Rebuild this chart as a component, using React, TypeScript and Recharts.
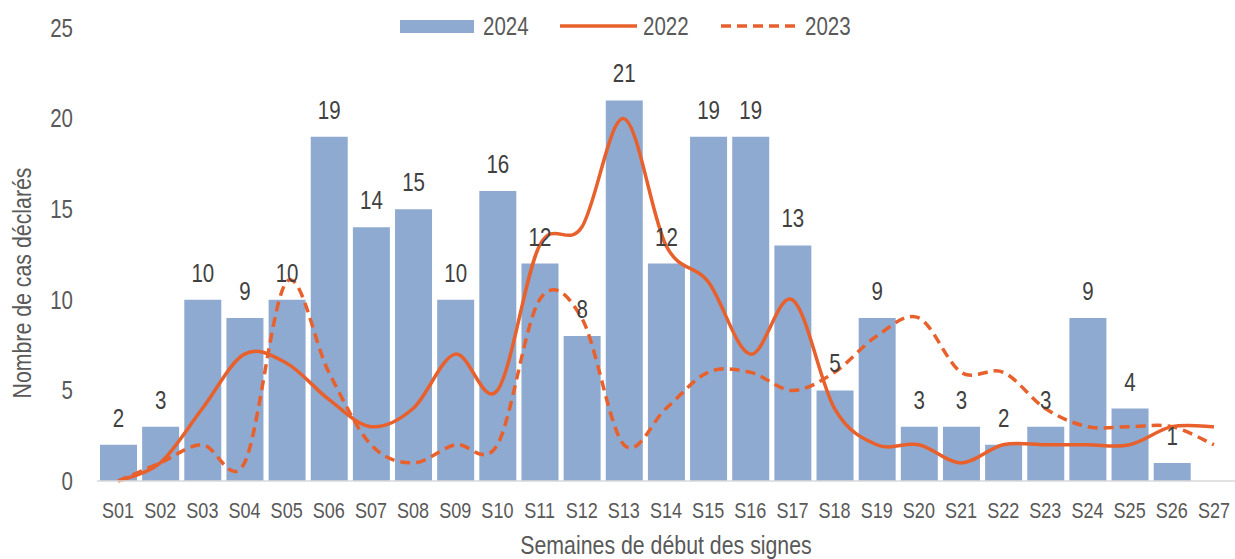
import React from "react";
import {
  ComposedChart, Bar, Line, XAxis, YAxis, LabelList,
} from "recharts";

// semaines + valeurs
const weeks = [
  "S01", "S02", "S03", "S04", "S05", "S06", "S07", "S08", "S09",
  "S10", "S11", "S12", "S13", "S14", "S15", "S16", "S17", "S18",
  "S19", "S20", "S21", "S22", "S23", "S24", "S25", "S26", "S27",
];
const cases2024 = [2, 3, 10, 9, 10, 19, 14, 15, 10, 16, 12, 8, 21, 12, 19, 19, 13, 5, 9, 3, 3, 2, 3, 9, 4, 1, null];
const cases2022 = [0, 1, 4, 7, 6.5, 4.5, 3, 4, 7, 5, 13, 14, 20, 13, 11, 7, 10, 4, 2, 2, 1, 2, 2, 2, 2, 3, 3];
const cases2023 = [0, 1, 2, 1, 11, 6, 2, 1, 2, 2, 10, 9, 2, 4, 6, 6, 5, 6, 8, 9, 6, 6, 4, 3, 3, 3, 2];
const yTicks = [0, 5, 10, 15, 20, 25];

const data = weeks.map((w, i) => ({
  week: w,
  y2024: cases2024[i],
  y2022: cases2022[i],
  y2023: cases2023[i],
}));

const BAR = "#8FAAD0";
const ORANGE = "#E8602C";
const GREY = "#595959";
const FONT = "'Liberation Sans', Arial, sans-serif";
const SQUEEZE = 0.82; // pas de police étroite dispo -> on compresse

// lissage type Excel (Catmull-Rom en Bézier)
function smoothCurve(context: any) {
  let pts: number[][] = [];
  return {
    areaStart() {},
    areaEnd() {},
    lineStart() { pts = []; },
    point(x: number, y: number) { pts.push([+x, +y]); },
    lineEnd() {
      const n = pts.length;
      if (!n) return;
      context.moveTo(pts[0][0], pts[0][1]);
      for (let i = 0; i < n - 1; i++) {
        const p0 = pts[i - 1] || pts[i];
        const p1 = pts[i];
        const p2 = pts[i + 1];
        const p3 = pts[i + 2] || p2;
        context.bezierCurveTo(
          p1[0] + (p2[0] - p0[0]) / 6, p1[1] + (p2[1] - p0[1]) / 6,
          p2[0] - (p3[0] - p1[0]) / 6, p2[1] - (p3[1] - p1[1]) / 6,
          p2[0], p2[1],
        );
      }
    },
  };
}

function NarrowText({ x, y, size, fill = GREY, anchor = "middle", dy = "0", rotate = 0, children }: any) {
  return (
    <text
      transform={`translate(${x},${y}) rotate(${rotate}) scale(${SQUEEZE},1)`}
      textAnchor={anchor} dy={dy} fontSize={size} fill={fill}
    >
      {children}
    </text>
  );
}

const XTick = ({ x, y, payload }: any) => (
  <NarrowText x={x} y={y} size={22} dy="0.71em">{payload.value}</NarrowText>
);

const YTick = ({ x, y, payload }: any) => (
  <NarrowText x={x} y={y} size={25} anchor="end" dy="0.355em">{payload.value}</NarrowText>
);

const BarValue = ({ x, y, width, value }: any) =>
  value == null ? null : (
    <NarrowText x={x + width / 2} y={y - 18} size={25} fill="#404040">{value}</NarrowText>
  );

function LegendBox() {
  const txt: React.CSSProperties = {
    position: "absolute", top: 12, fontSize: 25, color: GREY, lineHeight: "28px",
    transform: `scaleX(${SQUEEZE})`, transformOrigin: "left center",
  };
  return (
    <div style={{ position: "absolute", left: 0, top: 0, width: 1235, height: 50 }}>
      <div style={{ position: "absolute", left: 400, top: 20, width: 74, height: 13, background: BAR }} />
      <span style={{ ...txt, left: 483 }}>2024</span>
      <svg style={{ position: "absolute", left: 560, top: 20 }} width={78} height={12}>
        <line x1={0} y1={6} x2={77} y2={6} stroke={ORANGE} strokeWidth={3.5} />
      </svg>
      <span style={{ ...txt, left: 643 }}>2022</span>
      <svg style={{ position: "absolute", left: 721, top: 20 }} width={80} height={12}>
        <line x1={0} y1={6} x2={79} y2={6} stroke={ORANGE} strokeWidth={3.5} strokeDasharray="10 6" />
      </svg>
      <span style={{ ...txt, left: 805 }}>2023</span>
    </div>
  );
}

export default function App() {
  return (
    <div style={{ position: "absolute", left: 0, top: 0, width: 1235, height: 559, fontFamily: FONT, background: "#fff" }}>
      <ComposedChart
        width={1235} height={559} data={data}
        margin={{ top: 28, right: 0, left: 0, bottom: 0 }}
      >
        <XAxis
          dataKey="week" height={78} tickSize={0} tickMargin={21}
          axisLine={{ stroke: "#D9D9D9", strokeWidth: 1.5 }} tickLine={false}
          tick={<XTick />}
          interval={0}
          label={{
            content: () => (
              <NarrowText x={666} y={554} size={26}>Semaines de début des signes</NarrowText>
            ),
          }}
        />
        <YAxis
          width={97} domain={[0, 25]} ticks={yTicks} tickSize={0} tickMargin={24}
          axisLine={false} tickLine={false}
          tick={<YTick />}
          label={{
            content: () => (
              <NarrowText x={22} y={283} size={26} rotate={-90} dy="0.355em">
                Nombre de cas déclarés
              </NarrowText>
            ),
          }}
        />
        <Bar dataKey="y2024" name="2024" fill={BAR} barSize={37} isAnimationActive={false}>
          <LabelList dataKey="y2024" content={<BarValue />} />
        </Bar>
        <Line
          dataKey="y2022" name="2022" type={smoothCurve as any} stroke={ORANGE}
          strokeWidth={3.5} dot={false} isAnimationActive={false}
        />
        <Line
          dataKey="y2023" name="2023" type={smoothCurve as any} stroke={ORANGE}
          strokeWidth={3.5} strokeDasharray="10 6" dot={false} isAnimationActive={false}
        />
      </ComposedChart>
      <LegendBox />
    </div>
  );
}
